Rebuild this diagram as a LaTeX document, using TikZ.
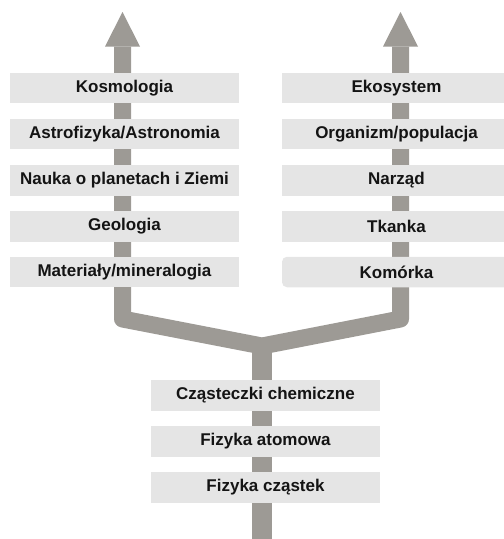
\documentclass[tikz,border=0pt]{standalone}
\usepackage{fontspec}
\setmainfont{Liberation Sans}
\usetikzlibrary{arrows.meta}

\definecolor{bandgray}{HTML}{9D9A95}
\definecolor{boxgray}{HTML}{E5E5E5}
\definecolor{textdark}{HTML}{141414}

\begin{document}
\begin{tikzpicture}[x=1pt, y=-1pt,
  tier/.style={fill=boxgray, text=textdark, minimum width=229pt, minimum height=30.5pt,
    inner sep=0pt, font=\fontsize{17}{19}\selectfont\bfseries},
  band/.style={draw=bandgray, line width=17pt, line join=round},
  uparrows/.style={{Triangle[length=34.5pt, width=35pt, line width=0pt]}-{Triangle[length=34.5pt, width=35pt, line width=0pt]}}]

\clip (0,0) rectangle (504,539);

% Band coordinates
\coordinate (ltip) at (122.5,12);
\coordinate (lbend) at (122.5,319);
\coordinate (fork) at (262,346);
\coordinate (rbend) at (400.5,319);
\coordinate (rtip) at (400.5,12);
\coordinate (root) at (262,539);

% Gray band - trunk, then the two branches
\draw[band, line width=20pt] (root) -- (fork);
\draw[band, uparrows] (ltip) -- (lbend) -- (fork) -- (rbend) -- (rtip);

% Left column
\node[tier] (kosmologia) at (124.5,88) {Kosmologia};
\node[tier] (astro) at (124.5,134) {Astrofizyka/Astronomia};
\node[tier] (nauka) at (124.5,180.5) {Nauka o planetach i Ziemi};
\node[tier] (geologia) at (124.5,226.5) {Geologia};
\node[tier] (materialy) at (124.5,272) {Materiały/mineralogia};

% Right column
\node[tier] (ekosystem) at (396.5,88) {Ekosystem};
\node[tier] (organizm) at (396.5,134) {Organizm/populacja};
\node[tier] (narzad) at (396.5,180.5) {Narząd};
\node[tier] (tkanka) at (396.5,226.5) {Tkanka};
\node[tier, rounded corners=5pt] (komorka) at (396.5,272) {Komórka};

% Bottom column
\node[tier] (czasteczki) at (265.5,395.5) {Cząsteczki chemiczne};
\node[tier] (atomowa) at (265.5,441.5) {Fizyka atomowa};
\node[tier] (czastek) at (265.5,487.5) {Fizyka cząstek};

\end{tikzpicture}
\end{document}
